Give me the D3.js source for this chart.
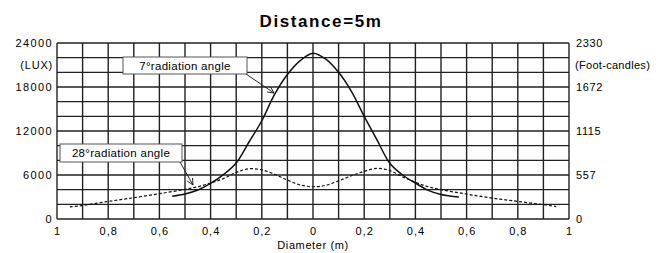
<!DOCTYPE html>
<html>
<head>
<meta charset="utf-8">
<script src="https://cdn.jsdelivr.net/npm/d3@7"></script>
<style>
  body { margin: 0; background: #fff; }
  text { font-family: "Liberation Sans", Arial, sans-serif; fill: #000; }
</style>
</head>
<body>
<div id="chart"></div>
<script>
// 7 deg beam (solid)
const narrowX = [-0.55, -0.5, -0.45, -0.4, -0.35, -0.3, -0.25, -0.2, -0.15, -0.1, -0.05, 0,
                 0.05, 0.1, 0.15, 0.2, 0.25, 0.3, 0.35, 0.4, 0.45, 0.5, 0.57];
const narrowLux = [3100, 3400, 3950, 4850, 6050, 7650, 10500, 13400, 17000, 19700, 21600, 22600,
                   21800, 20000, 17400, 14000, 10800, 7600, 6000, 4900, 3900, 3350, 3000];
// 28 deg beam (dashed)
const wideX = [-0.95, -0.9, -0.8, -0.7, -0.6, -0.5, -0.45, -0.4, -0.35, -0.3, -0.25, -0.2, -0.15, -0.1, -0.05, 0,
               0.05, 0.1, 0.15, 0.2, 0.25, 0.3, 0.35, 0.4, 0.45, 0.5, 0.6, 0.7, 0.8, 0.9, 0.95];
const wideLux = [1650, 1850, 2400, 2900, 3450, 4050, 4400, 4900, 5500, 6350, 6850, 6700, 6100, 5300, 4650, 4400,
                 4600, 5200, 5900, 6500, 6900, 6600, 5750, 5000, 4400, 4000, 3400, 2850, 2400, 1950, 1700];

const luxTicks = [0, 6000, 12000, 18000, 24000];
const fcLabels = ["0", "557", "1115", "1672", "2330"];
const xTicks = [-1, -0.8, -0.6, -0.4, -0.2, 0, 0.2, 0.4, 0.6, 0.8, 1];

const width = 664, height = 253;
const svg = d3.select("#chart").append("svg")
  .attr("width", width)
  .attr("height", height);

const x = d3.scaleLinear().domain([-1, 1]).range([57, 569]);
const y = d3.scaleLinear().domain([0, 24000]).range([219, 43]);

// grid
const grid = svg.append("g").attr("stroke", "#222").attr("stroke-width", 1.4);
grid.selectAll("line.v")
  .data(x.ticks(20))
  .join("line")
  .attr("x1", d => x(d)).attr("x2", d => x(d))
  .attr("y1", y(0)).attr("y2", y(24000));
grid.selectAll("line.h")
  .data(y.ticks(8))
  .join("line")
  .attr("y1", d => y(d)).attr("y2", d => y(d))
  .attr("x1", x(-1)).attr("x2", x(1));

// left axis labels
const leftAxis = d3.axisLeft(y).tickValues(luxTicks).tickSize(0).tickPadding(4).tickFormat(d3.format("d"));
const gl = svg.append("g").attr("transform", `translate(${x(-1)},0)`).call(leftAxis);
gl.select(".domain").remove();
gl.selectAll("text").style("font-size", "11px").style("letter-spacing", "1.4px").attr("fill", "#000");

const rightAxis = d3.axisRight(y).tickValues(luxTicks).tickSize(0).tickPadding(7)
  .tickFormat((d, i) => fcLabels[i]);
const gr = svg.append("g").attr("transform", `translate(${x(1)},0)`).call(rightAxis);
gr.select(".domain").remove();
gr.selectAll("text").style("font-size", "11px").style("letter-spacing", "0.6px").attr("fill", "#000");

svg.append("text").attr("x", 53).attr("y", y(21000)).attr("dy", "0.35em")
  .attr("text-anchor", "end").style("font-size", "11px").style("letter-spacing", "0.8px").text("(LUX)");
svg.append("text").attr("x", 575).attr("y", y(21000)).attr("dy", "0.35em")
  .style("font-size", "11px").style("letter-spacing", "0.3px").text("(Foot-candles)");

// bottom axis
const fmt = d => d === 0 ? "0" : (Math.abs(d) === 1 ? "1" : Math.abs(d).toFixed(1).replace(".", ","));
const bottomAxis = d3.axisBottom(x).tickValues(xTicks).tickSize(0).tickPadding(8).tickFormat(fmt);
const gb = svg.append("g").attr("transform", `translate(0,${y(0)})`).call(bottomAxis);
gb.select(".domain").remove();
gb.selectAll("text").style("font-size", "11px").style("letter-spacing", "1px").attr("fill", "#000");

svg.append("text").attr("x", 313).attr("y", 249).attr("text-anchor", "middle")
  .style("font-size", "11px").style("letter-spacing", "0.6px").text("Diameter (m)");

// title
svg.append("text").attr("x", 321).attr("y", 27).attr("text-anchor", "middle")
  .style("font-size", "17px").style("font-weight", "bold").style("letter-spacing", "1.6px")
  .text("Distance=5m");

// curves
const line = d3.line().curve(d3.curveCatmullRom.alpha(0.5))
  .x(d => x(d[0])).y(d => y(d[1]));

svg.append("path")
  .datum(wideX.map((v, i) => [v, wideLux[i]]))
  .attr("d", line)
  .attr("fill", "none").attr("stroke", "#111").attr("stroke-width", 1.2)
  .attr("stroke-dasharray", "3,2");

svg.append("path")
  .datum(narrowX.map((v, i) => [v, narrowLux[i]]))
  .attr("d", line)
  .attr("fill", "none").attr("stroke", "#111").attr("stroke-width", 1.5);

// callouts
const callouts = [
  { text: "7°radiation angle", bx: 123, by: 57, bw: 124, bh: 17, ax1: 246, ay1: 74, ax2: 274, ay2: 93 },
  { text: "28°radiation angle", bx: 60, by: 144, bw: 122, bh: 18, ax1: 180, ay1: 162, ax2: 193, ay2: 185 }
];
callouts.forEach(c => {
  const g = svg.append("g");
  g.append("line").attr("x1", c.ax1).attr("y1", c.ay1).attr("x2", c.ax2).attr("y2", c.ay2)
    .attr("stroke", "#222").attr("stroke-width", 1);
  const ang = Math.atan2(c.ay2 - c.ay1, c.ax2 - c.ax1);
  const L = 7, spread = 0.45;
  g.append("path")
    .attr("d", `M${c.ax2 - L * Math.cos(ang - spread)},${c.ay2 - L * Math.sin(ang - spread)}L${c.ax2},${c.ay2}L${c.ax2 - L * Math.cos(ang + spread)},${c.ay2 - L * Math.sin(ang + spread)}`)
    .attr("fill", "none").attr("stroke", "#222").attr("stroke-width", 1);
  g.append("rect").attr("x", c.bx).attr("y", c.by).attr("width", c.bw).attr("height", c.bh)
    .attr("fill", "#fff").attr("stroke", "#555").attr("stroke-width", 1);
  g.append("text").attr("x", c.bx + c.bw / 2).attr("y", c.by + c.bh / 2).attr("dy", "0.36em")
    .attr("text-anchor", "middle").style("font-size", "11.5px").style("letter-spacing", "0.3px")
    .text(c.text);
});
</script>
</body>
</html>
